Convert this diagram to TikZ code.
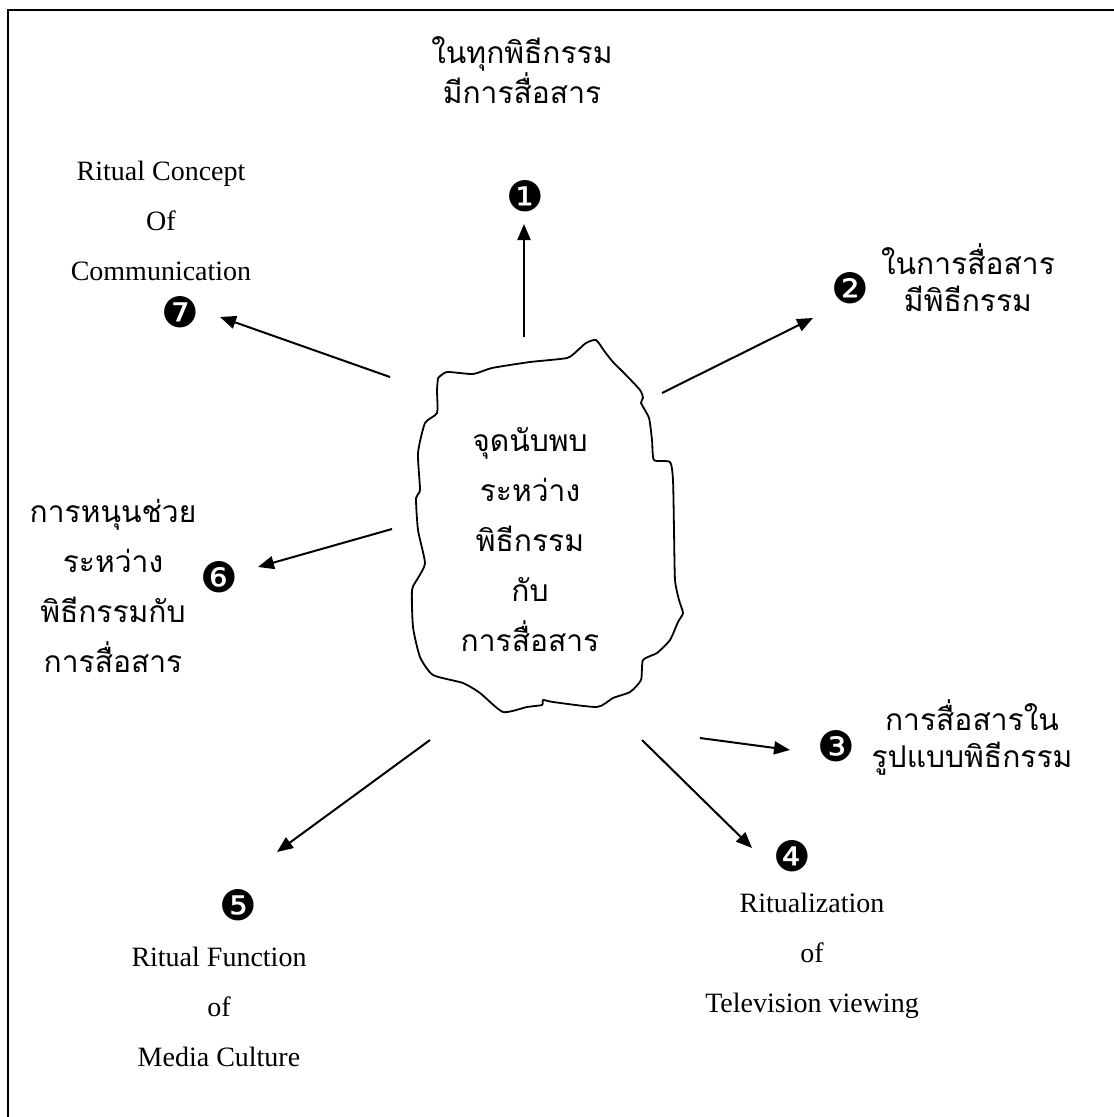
\documentclass[tikz,border=0pt]{standalone}
\usepackage{fontspec}
\setmainfont{Liberation Serif}
\newfontfamily\thaifont[Script=Thai]{Loma}
\newfontfamily\dingfont{DejaVu Sans}
\usepackage{tikz}
\usetikzlibrary{arrows.meta, positioning}

\begin{document}
\begin{tikzpicture}[x=1pt, y=-1pt,
		thaitext/.style={font=\thaifont\fontsize{30}{37}\selectfont, align=center, inner sep=0pt},
		thaiwide/.style={font=\thaifont\fontsize{30}{50}\selectfont, align=center, inner sep=0pt},
		engtext/.style={font=\fontsize{28}{50}\selectfont, align=center, inner sep=0pt},
		numbadge/.style={font=\dingfont\fontsize{42}{42}\selectfont, inner sep=0pt},
		linkarrow/.style={line width=2pt, -{Triangle[length=16pt, width=13pt]}}]
	\useasboundingbox (0,0) rectangle (1114,1117);
	% frame (only top and left edges show)
	\draw[line width=2pt] (8,1117) -- (8,10) -- (1114,10);
	% the rough stone in the middle
	\draw[line width=1.8pt, line join=round] plot[smooth, tension=0.35] coordinates {
		(438,378) (447,372) (473,374) (492,368) (530,362) (567,358) (578,350) (586,343)
		(596,340) (605,352) (613,362) (625,374) (640,390) (643,398) (641,403) (649,418)
		(652,440) (654,460) (670,462) (673,480) (674,530) (675,580) (679,600) (683,613)
		(678,622) (670,640) (657,653) (643,660) (641,680) (630,692) (613,698) (597,707)
		(553,702) (543,700) (542,705) (527,707) (503,712) (480,693) (463,683) (433,675)
		(420,657) (413,627) (412,590) (418,578) (425,563) (418,530) (416,498) (420,490)
		(418,453) (425,423) (437,413) (437,390) (438,378)};
	\node[thaiwide] (core) at (530,540) {จุดนับพบ\\ระหว่าง\\พิธีกรรม\\กับ\\การสื่อสาร};

	% numbered points
	\node[thaitext] (t1) at (522,70) {ในทุกพิธีกรรม\\มีการสื่อสาร};
	\node[numbadge] (n1) at (525,196) {❶};
	\node[numbadge] (n2) at (850,288) {❷};
	\node[thaitext] (t2) at (968,278) {ในการสื่อสาร\\มีพิธีกรรม};
	\node[numbadge] (n3) at (836,746) {❸};
	\node[thaitext] (t3) at (972,737) {การสื่อสารใน\\รูปแบบพิธีกรรม};
	\node[numbadge] (n4) at (792,856) {❹};
	\node[engtext] (t4) at (812,956) {Ritualization\\of\\Television viewing};
	\node[numbadge] (n5) at (238,905) {❺};
	\node[engtext] (t5) at (219,1007) {Ritual Function\\of\\Media Culture};
	\node[numbadge] (n6) at (219,577) {❻};
	\node[thaiwide] (t6) at (113,586) {การหนุนช่วย\\ระหว่าง\\พิธีกรรมกับ\\การสื่อสาร};
	\node[numbadge] (n7) at (180,312) {❼};
	\node[engtext] (t7) at (161,221) {Ritual Concept\\Of\\Communication};

	% arrows out of the stone
	\coordinate (s1) at (524,337); \coordinate (e1) at (524,224);
	\coordinate (s2) at (662,393); \coordinate (e2) at (813,318);
	\coordinate (s3) at (700,738); \coordinate (e3) at (790,750);
	\coordinate (s4) at (642,740); \coordinate (e4) at (752,848);
	\coordinate (s5) at (430,740); \coordinate (e5) at (277,852);
	\coordinate (s6) at (392,529); \coordinate (e6) at (258,567);
	\coordinate (s7) at (390,377); \coordinate (e7) at (220,317);
	\foreach \i in {1,...,7}
		\draw[linkarrow] (s\i) -- (e\i);
\end{tikzpicture}
\end{document}
